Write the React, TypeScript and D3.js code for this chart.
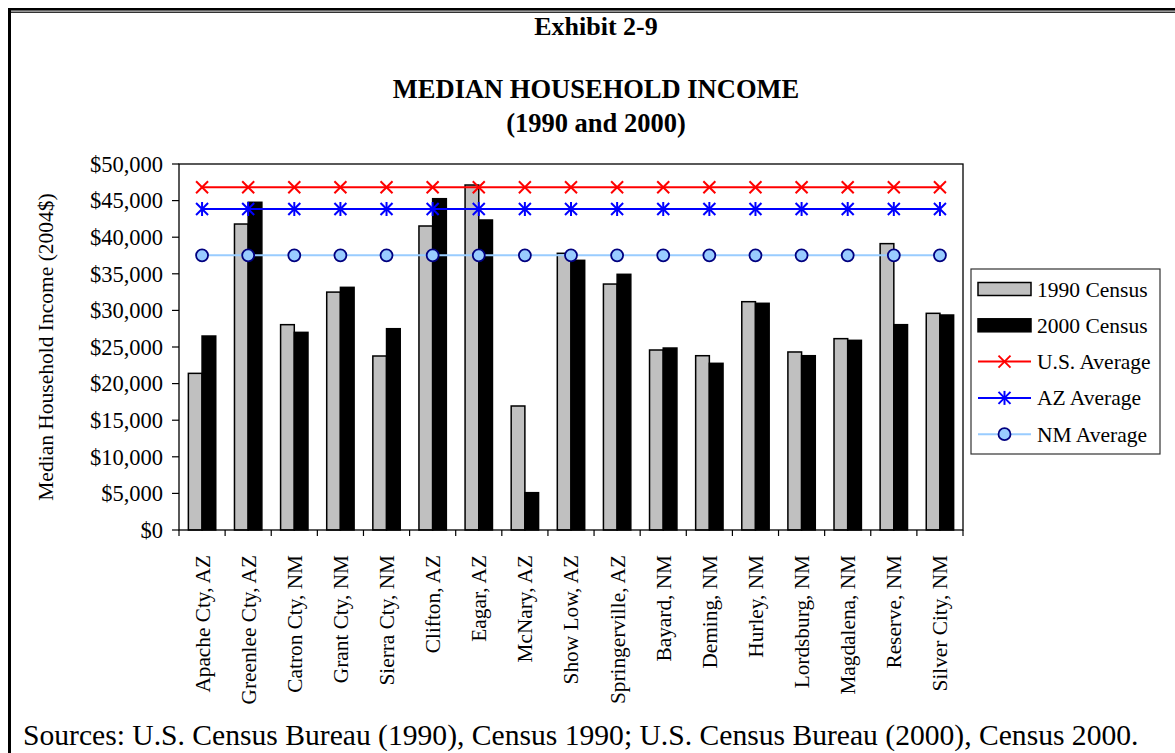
import React from "react";
import * as d3 from "d3";

const categories = [
  "Apache Cty, AZ", "Greenlee Cty, AZ", "Catron Cty, NM", "Grant Cty, NM", "Sierra Cty, NM",
  "Clifton, AZ", "Eagar, AZ", "McNary, AZ", "Show Low, AZ", "Springerville, AZ",
  "Bayard, NM", "Deming, NM", "Hurley, NM", "Lordsburg, NM", "Magdalena, NM",
  "Reserve, NM", "Silver City, NM",
];
const census1990 = [21400, 41800, 28050, 32500, 23770, 41530, 47130, 16940, 37800, 33600, 24590, 23810, 31190, 24320, 26140, 39120, 29600];
const census2000 = [26500, 44770, 27000, 33150, 27500, 45260, 42350, 5100, 36840, 34930, 24860, 22770, 30970, 23810, 25910, 28050, 29370];
const averageNames = ["U.S. Average", "AZ Average", "NM Average"];
const averageValues = [46820, 43850, 37530];
const yTicks = [0, 5000, 10000, 15000, 20000, 25000, 30000, 35000, 40000, 45000, 50000];
const legendLabels = ["1990 Census", "2000 Census", "U.S. Average", "AZ Average", "NM Average"];

const FONT = "'Liberation Serif', 'Times New Roman', serif";

const Marker = ({ kind, x, y }: { kind: number; x: number; y: number }) => {
  const s = 6;
  if (kind === 0) {
    return (
      <g stroke="#ff0000" strokeWidth={2}>
        <line x1={x - s} y1={y - s} x2={x + s} y2={y + s} />
        <line x1={x - s} y1={y + s} x2={x + s} y2={y - s} />
      </g>
    );
  }
  if (kind === 1) {
    return (
      <g stroke="#0000ff" strokeWidth={2}>
        <line x1={x - s} y1={y - s} x2={x + s} y2={y + s} />
        <line x1={x - s} y1={y + s} x2={x + s} y2={y - s} />
        <line x1={x} y1={y - s - 1} x2={x} y2={y + s + 1} />
      </g>
    );
  }
  return <circle cx={x} cy={y} r={6} fill="#99ccff" stroke="#000080" strokeWidth={1.8} />;
};

const lineColors = ["#ff0000", "#0000ff", "#99ccff"];

export default function App() {
  const left = 179, right = 963, top = 164, bottom = 530;
  const x = d3.scaleBand<string>().domain(categories).range([left, right]).paddingInner(0).paddingOuter(0);
  const y = d3.scaleLinear().domain([0, 50000]).range([bottom, top]);
  const bw = x.bandwidth();
  const barW = bw * 0.297;
  const fmt = (v: number) => "$" + d3.format(",")(v);

  return (
    <svg width={1175} height={753} style={{ position: "absolute", left: 0, top: 0, background: "#fff" }} fontFamily={FONT}>
      <rect x={0} y={0} width={1175} height={753} fill="#fff" />
      {/* frame */}
      <rect x={8} y={8} width={1167} height={2.6} fill="#000" />
      <rect x={8} y={11.6} width={1167} height={1.2} fill="#000" />
      <rect x={8} y={8} width={3} height={745} fill="#000" />

      {/* titles */}
      <text x={596} y={35} textAnchor="middle" fontWeight="bold" fontSize={26}>Exhibit 2-9</text>
      <text x={596} y={98} textAnchor="middle" fontWeight="bold" fontSize={26.5}>MEDIAN HOUSEHOLD INCOME</text>
      <text x={596} y={132} textAnchor="middle" fontWeight="bold" fontSize={26.5}>(1990 and 2000)</text>

      {/* y axis ticks */}
      {yTicks.map((t) => (
        <g key={t}>
          <line x1={left - 7} x2={left} y1={y(t)} y2={y(t)} stroke="#000" strokeWidth={1.2} />
          <text x={left - 16} y={y(t)} dy="0.35em" textAnchor="end" fontSize={22.5}>{fmt(t)}</text>
        </g>
      ))}
      <text transform={`translate(53,${(top + bottom) / 2}) rotate(-90)`} textAnchor="middle" fontSize={21.5}>
        Median Household Income (2004$)
      </text>

      {/* bars */}
      {categories.map((c, i) => {
        const cx = (x(c) as number) + bw / 2;
        return (
          <g key={c} stroke="#000" strokeWidth={1.5}>
            <rect x={cx - barW} y={y(census1990[i])} width={barW} height={bottom - y(census1990[i])} fill="#c0c0c0" />
            <rect x={cx} y={y(census2000[i])} width={barW} height={bottom - y(census2000[i])} fill="#000" />
          </g>
        );
      })}

      {/* plot border */}
      <rect x={left} y={top} width={right - left} height={bottom - top} fill="none" stroke="#000" strokeWidth={1.3} />

      {/* x ticks */}
      {categories.map((c) => (
        <line key={c} x1={x(c) as number} x2={x(c) as number} y1={bottom} y2={bottom + 6} stroke="#000" strokeWidth={1.2} />
      ))}
      <line x1={right} x2={right} y1={bottom} y2={bottom + 6} stroke="#000" strokeWidth={1.2} />

      {/* x labels */}
      {categories.map((c) => {
        const cx = (x(c) as number) + bw / 2;
        return (
          <text key={c} transform={`translate(${cx},${bottom + 25}) rotate(-90)`} dy="0.35em" textAnchor="end" fontSize={21.3}>
            {c}
          </text>
        );
      })}

      {/* average lines */}
      {averageValues.map((v, k) => {
        const pts = categories.map((c) => [(x(c) as number) + bw / 2, y(v)] as [number, number]);
        const path = d3.line()(pts) as string;
        return (
          <g key={averageNames[k]}>
            <path d={path} fill="none" stroke={lineColors[k]} strokeWidth={2} />
            {pts.map((p, j) => (
              <Marker key={j} kind={k} x={p[0]} y={p[1]} />
            ))}
          </g>
        );
      })}

      {/* legend */}
      <rect x={971} y={269} width={189} height={185} fill="#fff" stroke="#333" strokeWidth={1.2} />
      {legendLabels.map((lab, i) => {
        const cy = 289 + i * 36.3;
        return (
          <g key={lab}>
            {i === 0 && <rect x={978} y={cy - 6.5} width={53} height={13} fill="#c0c0c0" stroke="#000" strokeWidth={1.5} />}
            {i === 1 && <rect x={978} y={cy - 6.5} width={53} height={13} fill="#000" stroke="#000" strokeWidth={1.5} />}
            {i >= 2 && (
              <g>
                <line x1={978} x2={1031} y1={cy} y2={cy} stroke={lineColors[i - 2]} strokeWidth={2} />
                <Marker kind={i - 2} x={1004.5} y={cy} />
              </g>
            )}
            <text x={1037} y={cy} dy="0.35em" fontSize={21.5}>{lab}</text>
          </g>
        );
      })}

      {/* source */}
      <text x={23} y={745} fontSize={29.6}>
        Sources: U.S. Census Bureau (1990), Census 1990; U.S. Census Bureau (2000), Census 2000.
      </text>
    </svg>
  );
}
